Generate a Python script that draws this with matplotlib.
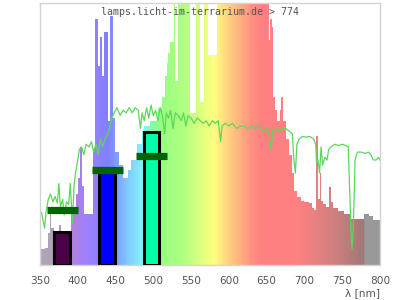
import numpy as np
import matplotlib
matplotlib.use("Agg")
import matplotlib.pyplot as plt
from matplotlib.colors import LinearSegmentedColormap
from matplotlib.patches import Polygon

# spectrum (relative, 1.0 = top of plot), step values starting at each wavelength
spec_nm = [350, 356, 360, 363, 365, 369, 375, 378, 391, 397, 400, 403, 406, 408,
           420, 423, 427, 430, 432, 435, 440, 442, 446, 449, 455, 460, 466, 471,
           478, 485, 488, 495, 506, 511, 515, 518, 520, 522, 524, 527, 529, 532,
           548, 556, 562, 567, 572, 584, 653, 655, 657, 658, 659, 661, 664, 667,
           669, 672, 676, 680, 684, 686, 690, 695, 700, 706, 710, 712, 715, 718,
           720, 722, 725, 729, 732, 735, 738, 745, 752, 762, 779, 785, 791, 800]
spec_val = [0.06, 0.065, 0.12, 0.22, 0.14, 0.11, 0.15, 0.12, 0.21, 0.27, 0.33, 0.45, 0.30, 0.195,
            0.44, 0.94, 0.76, 0.87, 0.72, 0.89, 0.55, 0.95, 0.56, 0.43, 0.38, 0.33, 0.36, 0.40,
            0.46, 0.51, 0.53, 0.55, 0.60, 0.64, 0.72, 0.77, 0.81, 0.85, 0.85, 1.2, 0.70, 1.2,
            0.58, 1.2, 0.62, 1.2, 0.80, 1.2, 0.86, 0.94, 0.91, 0.83, 0.64, 0.59, 0.55, 0.59,
            0.64, 0.55, 0.48, 0.42, 0.35, 0.28, 0.26, 0.245, 0.24, 0.235, 0.215, 0.21, 0.49, 0.25,
            0.35, 0.245, 0.23, 0.22, 0.295, 0.24, 0.215, 0.205, 0.195, 0.175, 0.195, 0.185, 0.17, 0.17]

# green reference curve
ref_nm = [350, 352, 354, 356, 358, 361, 364, 367, 370, 373, 375, 377, 380, 382, 385, 388,
          390, 393, 395, 397, 400, 402, 405, 408, 411, 415, 418, 421, 424, 427, 430, 433,
          436, 440, 444, 448, 452, 456, 460, 464, 468, 472, 476, 480, 483, 485, 488, 491,
          494, 497, 500, 503, 506, 509, 512, 515, 517, 520, 523, 526, 529, 533, 537, 540,
          543, 546, 550, 554, 558, 562, 566, 570, 574, 578, 582, 586, 589, 591, 595, 600,
          605, 610, 615, 620, 625, 630, 635, 640, 645, 650, 653, 656, 658, 662, 666, 670,
          675, 680, 684, 686, 688, 690, 693, 697, 702, 707, 712, 715, 716, 718, 720, 722,
          724, 727, 730, 732, 735, 740, 745, 750, 755, 758, 760, 762, 763, 765, 767, 770,
          775, 780, 785, 788, 791, 795, 798, 800]
ref_val = [0.19, 0.20, 0.17, 0.14, 0.20, 0.25, 0.27, 0.24, 0.26, 0.235, 0.31, 0.22, 0.25, 0.19, 0.24, 0.23,
           0.31, 0.16, 0.30, 0.35, 0.40, 0.44, 0.45, 0.42, 0.46, 0.45, 0.47, 0.43, 0.46, 0.42, 0.48, 0.45,
           0.48, 0.50, 0.55, 0.58, 0.60, 0.57, 0.59, 0.58, 0.60, 0.58, 0.60, 0.59, 0.52, 0.58, 0.55, 0.60,
           0.56, 0.61, 0.57, 0.59, 0.55, 0.60, 0.57, 0.50, 0.58, 0.56, 0.59, 0.52, 0.58, 0.57, 0.55, 0.58,
           0.53, 0.57, 0.56, 0.54, 0.56, 0.55, 0.54, 0.55, 0.53, 0.55, 0.54, 0.55, 0.47, 0.53, 0.54, 0.53,
           0.54, 0.52, 0.53, 0.53, 0.52, 0.53, 0.52, 0.53, 0.51, 0.52, 0.50, 0.44, 0.51, 0.52, 0.51, 0.52,
           0.52, 0.51, 0.50, 0.40, 0.35, 0.46, 0.48, 0.49, 0.487, 0.49, 0.48, 0.46, 0.39, 0.40, 0.35, 0.45,
           0.38, 0.41, 0.40, 0.44, 0.45, 0.46, 0.455, 0.46, 0.455, 0.45, 0.27, 0.10, 0.06, 0.17, 0.40, 0.43,
           0.43, 0.425, 0.43, 0.42, 0.40, 0.40, 0.41, 0.40]

# photoreceptor bars and their markers
bar_center = [379.5, 439, 497.5]
bar_height = [0.123, 0.368, 0.506]
bar_colors = ["#4b0048", "#0000ff", "#00ffa8"]
mark_level = [0.209, 0.36, 0.414]

ticks = [350, 400, 450, 500, 550, 600, 650, 700, 750, 800]

stops = [(350, "#b0a8b0"), (365, "#b0a0b8"), (380, "#b890d0"), (395, "#b080e0"),
         (410, "#a080ff"), (425, "#9080ff"), (440, "#8080ff"), (452, "#80a0ff"),
         (465, "#80c8ff"), (480, "#80e8ff"), (488, "#80f8ff"), (492, "#80ffd0"),
         (500, "#80ffa0"), (510, "#98ff80"), (540, "#b0ff80"), (560, "#d8ff80"),
         (580, "#ffff80"), (600, "#ffd080"), (615, "#ffb080"), (630, "#ff9080"),
         (645, "#ff8080"), (690, "#ff8080"), (740, "#d08080"), (779, "#a07878"),
         (780, "#999999"), (800, "#999999")]
cmap = LinearSegmentedColormap.from_list(
    "spec", [((w - 350) / 450, c) for w, c in stops], N=512)

fig = plt.figure(figsize=(4, 3), dpi=100)
ax = fig.add_axes([0.1, 0.118, 0.85, 0.872])
ax.set_xlim(350, 800)
ax.set_ylim(0, 1)

# step outline of the spectrum, used as clip path for the colour gradient
xs = np.repeat(spec_nm, 2)[1:]
ys = np.repeat(spec_val, 2)[:-1]
verts = np.column_stack([np.r_[350, xs, 800], np.r_[0, ys, 0]])
poly = Polygon(verts, closed=True, facecolor="none", edgecolor="none")
ax.add_patch(poly)
grad = np.linspace(0, 1, 900).reshape(1, -1)
im = ax.imshow(grad, extent=[350, 800, 0, 1.3], aspect="auto", cmap=cmap,
               interpolation="nearest", zorder=1)
im.set_clip_path(poly)
ax.set_ylim(0, 1)

ax.plot(ref_nm, ref_val, color="#5ad85a", lw=0.9, zorder=2)

ax.bar(bar_center, bar_height, width=21, color=bar_colors, edgecolor="black",
       linewidth=2.2, zorder=3)
ax.hlines(mark_level, [c - 20.5 for c in bar_center], [c + 20.5 for c in bar_center],
          colors="#006400", linewidth=5.2, capstyle="butt", zorder=4)

ax.text(0.47, 0.965, "lamps.licht-im-terrarium.de > 774", transform=ax.transAxes,
        ha="center", va="center", fontsize=7.2, family="DejaVu Sans Mono",
        color="#555555", zorder=5)

ax.set_xticks(ticks)
ax.set_yticks([])
ax.tick_params(axis="x", length=0, pad=8, labelsize=7.6, labelcolor="#555555")
ax.set_xlabel("λ [nm]", loc="right", fontsize=7.6, color="#555555", labelpad=1.5)
for s in ax.spines.values():
    s.set_color("#d4d4d4")
    s.set_linewidth(1)

fig.savefig("out.png", dpi=100)
